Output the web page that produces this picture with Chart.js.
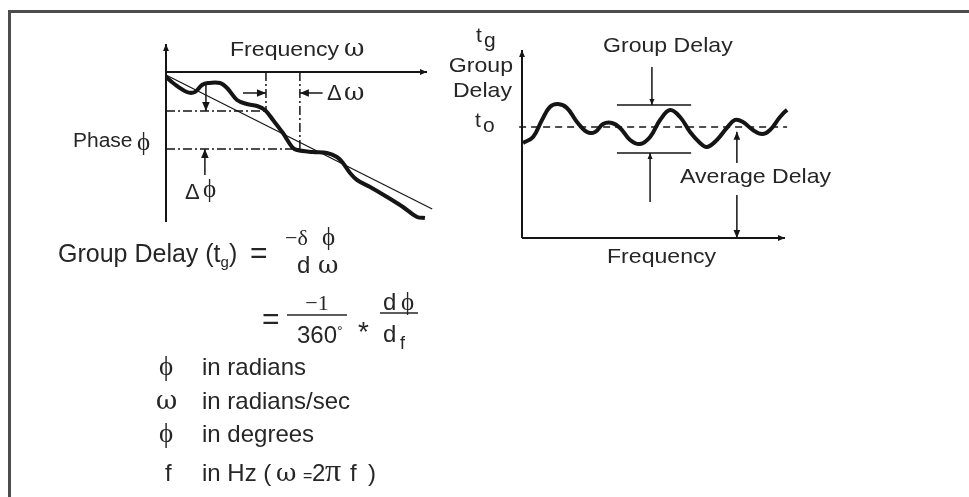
<!DOCTYPE html>
<html>
<head>
<meta charset="utf-8">
<script src="https://cdn.jsdelivr.net/npm/chart.js@4.4.0/dist/chart.umd.min.js"></script>
<style>
	html, body { margin: 0; padding: 0; background: #fff; }
	body { width: 969px; height: 497px; position: relative; overflow: hidden; }
	#frame { position: absolute; left: 8px; top: 10px; width: 1000px; height: 600px; border-top: 3px solid #4d4d4d; border-left: 3px solid #4d4d4d; }
	canvas { position: absolute; left: 0; top: 0; }
</style>
</head>
<body>
<div id="frame"></div>
<canvas id="phaseChart" width="969" height="497"></canvas>
<canvas id="delayChart" width="969" height="497"></canvas>
<script>
// phase response (left): frequency in arbitrary units, phase in degrees
const phaseFreq = [0, 0.27, 0.8, 1.11, 1.38, 1.61, 2.07, 2.34, 2.72, 3.1, 3.49, 3.79, 4.1, 4.48, 4.83, 5.02, 5.63, 6.17, 6.55, 6.78, 7.05, 7.32, 7.82, 8.47, 9.08, 9.62, 9.92];
const phaseDeg = [-10, -22, -40, -40, -26, -22, -22, -32, -56, -64, -68, -76, -96, -122, -150, -156, -160, -162, -170, -182, -202, -216, -230, -250, -270, -290, -292];
const linearFreq = [0, 10.2];
const linearDeg = [-6, -274];
const refFreq = [3.83, 5.13];
const refDeg = [-78, -154];

// group delay (right)
const delayFreq = [0.04, 0.42, 0.76, 1.06, 1.37, 1.71, 2.09, 2.47, 2.78, 3.08, 3.42, 3.73, 4.11, 4.49, 4.87, 5.25, 5.63, 6.01, 6.39, 6.77, 7.03, 7.41, 7.79, 8.1, 8.4, 8.78, 9.13, 9.43, 9.81, 10.08, 10.38];
const delayNs = [5.14, 5.46, 6.38, 7.08, 7.24, 7.03, 6.27, 5.73, 5.73, 6.16, 6.22, 5.95, 5.3, 5.08, 5.46, 6.38, 6.92, 6.54, 5.73, 5.14, 4.92, 5.3, 5.95, 6.38, 6.27, 5.84, 5.62, 5.84, 6.54, 6.92, 7.14];
const avgDelay = 6;
const delayPeak = 7.19;
const delayValley = 4.59;

const INK = "#151515";
const TXT = "#262626";
const SANS = '"Liberation Sans", Arial, sans-serif';
const SERIF = '"Liberation Serif", "DejaVu Serif", serif';
const GREEK = '"DejaVu Serif", serif';
const PHI = "\u03d5";
const OMEGA = "\u03c9";

function pts(xs, ys) {
	return xs.map((x, i) => ({ x: x, y: ys[i] }));
}

function seg(x0, y0, x1, y1, extra) {
	return Object.assign({
		data: [{ x: x0, y: y0 }, { x: x1, y: y1 }],
		borderColor: INK,
		borderWidth: 1.5,
		tension: 0,
	}, extra);
}

// filled arrow head at the last point of datasets that have "arrow" set
const arrowHeads = {
	id: "arrowHeads",
	afterDatasetsDraw(chart) {
		const ctx = chart.ctx;
		chart.data.datasets.forEach((ds, i) => {
			if (!ds.arrow) return;
			const p = chart.getDatasetMeta(i).data;
			const a = p[p.length - 2], b = p[p.length - 1];
			const ang = Math.atan2(b.y - a.y, b.x - a.x);
			const len = ds.arrow, half = len * 0.42;
			ctx.save();
			ctx.fillStyle = INK;
			ctx.translate(b.x, b.y);
			ctx.rotate(ang);
			ctx.beginPath();
			ctx.moveTo(0, 0);
			ctx.lineTo(-len, -half);
			ctx.lineTo(-len, half);
			ctx.closePath();
			ctx.fill();
			ctx.restore();
		});
	}
};

// text items: [text, x, baseline, size, family, align, stretch]; x null = follow previous
const textPlugin = {
	id: "textPlugin",
	afterDraw(chart, args, opts) {
		const ctx = chart.ctx;
		ctx.save();
		ctx.fillStyle = TXT;
		ctx.textBaseline = "alphabetic";
		let end = 0;
		(opts.items || []).forEach(it => {
			const [t, x, y, size, fam, align, stretch] = it;
			const sw = stretch || 1;
			ctx.font = size + "px " + (fam || SANS);
			const w = ctx.measureText(t).width * sw;
			let sx = x === null ? end : x;
			if (align === "right") sx = x - w;
			if (align === "center") sx = x - w / 2;
			ctx.save();
			ctx.translate(sx, y);
			ctx.scale(sw, 1);
			ctx.fillText(t, 0, 0);
			ctx.restore();
			end = sx + w;
		});
		ctx.strokeStyle = TXT;
		ctx.lineWidth = 1.5;
		(opts.bars || []).forEach(b => {
			ctx.beginPath();
			ctx.moveTo(b[0], b[2]);
			ctx.lineTo(b[1], b[2]);
			ctx.stroke();
		});
		ctx.restore();
	}
};

const dashDot = [9, 3, 2, 3];
const ST = 1.1; // label glyphs in the scan are slightly wide

const phaseChart = new Chart(document.getElementById("phaseChart"), {
	type: "scatter",
	data: {
		datasets: [
			// axes
			seg(0, -300, 0, 56, { borderWidth: 2, arrow: 7 }),
			seg(0, 0, 10, 0, { borderWidth: 2, arrow: 7 }),
			// measured phase and linear phase
			{ data: pts(phaseFreq, phaseDeg), borderColor: INK, borderWidth: 4, tension: 0.35 },
			{ data: pts(linearFreq, linearDeg), borderColor: INK, borderWidth: 1.2, tension: 0 },
			// reference lines
			seg(0, refDeg[0], refFreq[0], refDeg[0], { borderDash: dashDot }),
			seg(refFreq[0], 0, refFreq[0], refDeg[0], { borderDash: dashDot }),
			seg(0, refDeg[1], refFreq[1], refDeg[1], { borderDash: dashDot }),
			seg(refFreq[1], 0, refFreq[1], refDeg[1], { borderDash: dashDot }),
			// delta omega arrows
			seg(2.95, -42, refFreq[0], -42, { arrow: 9 }),
			seg(6.0, -42, refFreq[1], -42, { arrow: 9 }),
			// delta phi arrows
			seg(1.53, -22, 1.53, refDeg[0], { arrow: 9 }),
			seg(1.49, -206, 1.49, refDeg[1], { arrow: 9 }),
		],
	},
	options: {
		responsive: false,
		animation: false,
		events: [],
		showLine: true,
		layout: { padding: { left: 166, right: 542, top: 44, bottom: 275 } },
		elements: { point: { radius: 0 } },
		datasets: { scatter: { clip: false } },
		scales: {
			x: { type: "linear", display: false, min: 0, max: 10 },
			y: { type: "linear", display: false, min: -300, max: 56 },
		},
		plugins: {
			legend: { display: false },
			tooltip: { enabled: false },
			textPlugin: {
				items: [
					["Frequency", 230, 56, 21, SANS, null, ST],
					[OMEGA, 344, 56, 25, GREEK],
					["Phase", 73, 147, 20, SANS, null, 1.05],
					[PHI, 137, 150, 25, SERIF],
					["\u0394", 327, 100, 22],
					[OMEGA, 344, 100, 25, GREEK],
					["\u0394", 185, 199, 22],
					[PHI, 203, 197, 25, SERIF],
					// formula
					["Group Delay (t", 58, 262, 25],
					["g", null, 267, 15],
					[")", null, 262, 25],
					["=", 250, 263, 30],
					["\u2212\u03b4", 285, 245, 22, SERIF],
					[PHI, 322, 245, 25, SERIF],
					["d", 297, 273, 24],
					[OMEGA, 318, 273, 25, GREEK],
					["=", 262, 329, 30],
					["\u22121", 317, 310, 22, SERIF, "center"],
					["360", 297, 343, 24],
					["\u00b0", null, 336, 14],
					["*", 358, 341, 28],
					["d", 383, 310, 24],
					[PHI, 401, 310, 25, SERIF],
					["d", 383, 342, 24],
					["f", 400, 349, 18],
					// legend of symbols
					[PHI, 159, 375, 27, SERIF],
					["in radians", 202, 375, 24],
					[OMEGA, 156, 409, 26, GREEK],
					["in radians/sec", 202, 409, 24],
					[PHI, 159, 442, 27, SERIF],
					["in degrees", 202, 442, 24],
					["f", 165, 481, 24],
					["in Hz (", 202, 481, 24],
					[OMEGA, 276, 481, 25, GREEK],
					["=", 303, 481, 16],
					["2", 312, 481, 24],
					["\u03c0", 325, 481, 32, '"Liberation Serif", serif'],
					["f", 350, 481, 24],
					[")", 368, 481, 24],
				],
				bars: [[287, 347, 315], [380, 418, 313]],
			},
		},
	},
	plugins: [arrowHeads, textPlugin],
});

const delayChart = new Chart(document.getElementById("delayChart"), {
	type: "scatter",
	data: {
		datasets: [
			// axes
			seg(0, 0, 0, 10.16, { borderWidth: 2, arrow: 7 }),
			seg(0, 0, 10, 0, { borderWidth: 2, arrow: 7 }),
			// average delay
			seg(-0.11, avgDelay, 10.08, avgDelay, { borderDash: [7, 5] }),
			// group delay curve
			{ data: pts(delayFreq, delayNs), borderColor: INK, borderWidth: 4, tension: 0.4 },
			// ripple limits
			seg(3.61, delayPeak, 6.43, delayPeak),
			seg(3.61, delayValley, 6.43, delayValley),
			seg(4.94, 9.24, 4.94, delayPeak, { arrow: 6 }),
			seg(4.87, 1.95, 4.87, delayValley, { arrow: 6 }),
			// average delay arrows
			seg(8.17, 4.05, 8.17, avgDelay - 0.25, { arrow: 8 }),
			seg(8.17, 2.32, 8.17, 0, { arrow: 8 }),
		],
	},
	options: {
		responsive: false,
		animation: false,
		events: [],
		showLine: true,
		layout: { padding: { left: 522, right: 184, top: 53, bottom: 259 } },
		elements: { point: { radius: 0 } },
		datasets: { scatter: { clip: false } },
		scales: {
			x: { type: "linear", display: false, min: 0, max: 10 },
			y: { type: "linear", display: false, min: 0, max: 10 },
		},
		plugins: {
			legend: { display: false },
			tooltip: { enabled: false },
			textPlugin: {
				items: [
					["Group Delay", 603, 52, 21, SANS, null, ST],
					["Frequency", 607, 263, 21, SANS, null, ST],
					["Average Delay", 680, 183, 21, SANS, null, ST],
					["t", 476, 42, 21],
					["g", 484, 47, 21],
					["Group", 513, 72, 21, SANS, "right", ST],
					["Delay", 512, 97, 21, SANS, "right", ST],
					["t", 475, 127, 21],
					["o", 483, 132, 21],
				],
			},
		},
	},
	plugins: [arrowHeads, textPlugin],
});
</script>
</body>
</html>
